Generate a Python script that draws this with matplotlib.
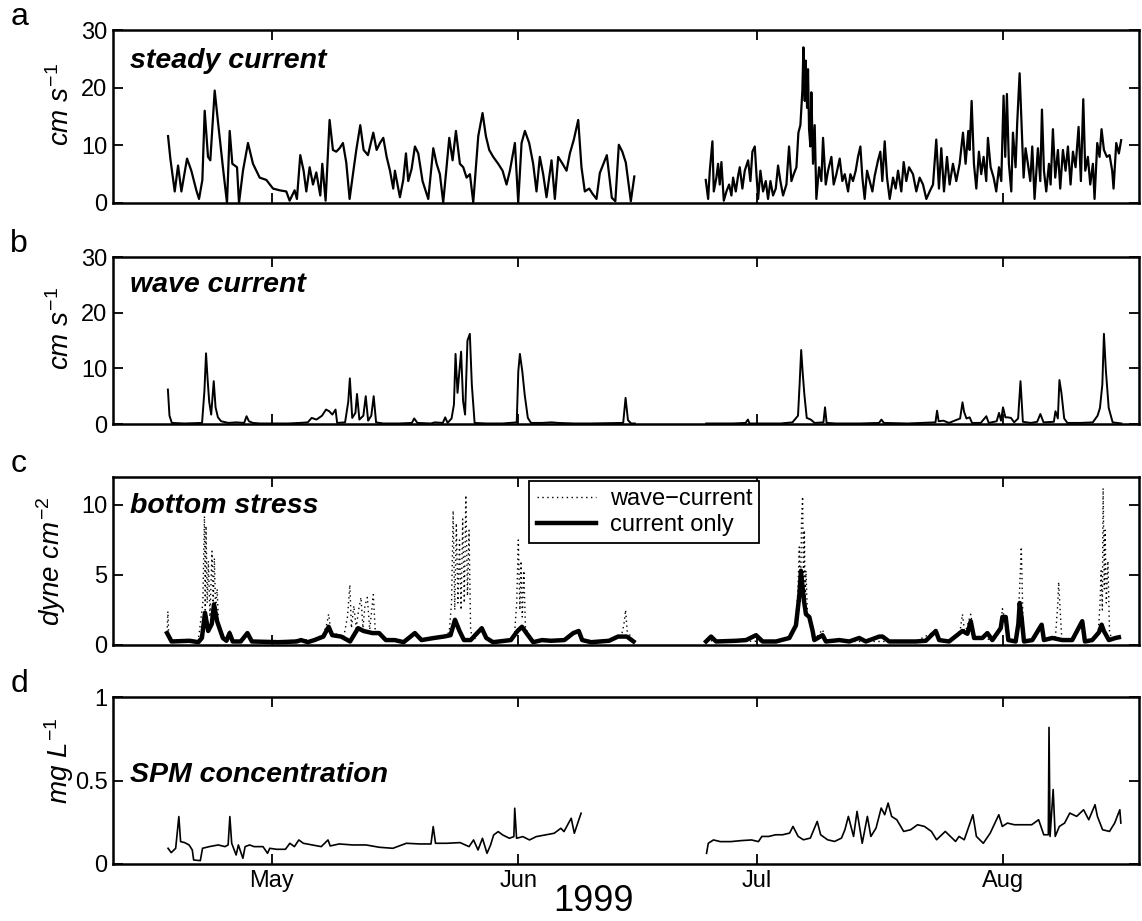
import numpy as np
import matplotlib
matplotlib.use("Agg")
import matplotlib.pyplot as plt
import matplotlib.dates as mdates

plt.rcParams["font.family"] = ["Liberation Sans", "DejaVu Sans"]
plt.rcParams["mathtext.fontset"] = "custom"
plt.rcParams["mathtext.it"] = "Liberation Sans:italic"
plt.rcParams["mathtext.rm"] = "Liberation Sans"

BASE = np.datetime64("1999-04-01T00:00")   # day 0
XLIM_DAYS = (10.0, 139.06)

# ---- a: steady current (cm/s), two deployments --------------------------
A1_DAY = [16.92, 17.21, 17.76, 18.18, 18.6, 19.31, 19.85, 20.48, 20.82, 21.24, 21.53, 21.95,
          22.24, 22.79, 23.21, 23.84, 24.34, 24.68, 25.01, 25.6, 25.85, 26.35, 26.98, 27.61,
          28.45, 29.29, 30.13, 30.96, 31.8, 32.22, 32.85, 33.14, 33.56, 33.98, 34.32, 34.74,
          35.16, 35.58, 36.08, 36.33, 36.75, 37.25, 37.67, 38.09, 38.51, 38.93, 39.35, 39.77,
          40.19, 40.61, 41.11, 41.53, 42.08, 42.75, 43.17, 43.59, 44.01, 44.43, 44.85, 45.26,
          45.47, 46.1, 46.52, 46.86, 47.15, 47.57, 47.99, 48.41, 48.95, 49.25, 49.67, 50.3,
          50.72, 51.13, 51.55, 51.97, 52.31, 52.73, 53.15, 53.65, 54.07, 54.49, 54.91, 55.33,
          55.96, 56.5, 56.92, 57.34, 57.84, 58.47, 59.02, 59.52, 59.94, 60.57, 60.99, 61.41,
          61.83, 62.37, 62.87, 63.29, 63.71, 64.13, 64.55, 65.18, 65.6, 66.02, 66.57, 67.07,
          67.49, 67.99, 68.54, 68.95, 69.37, 69.92, 70.34, 70.84, 71.26, 72.14, 72.77, 73.21,
          73.65, 74.09, 74.53, 75.16, 75.6]
A1_VAL = [11.6, 7.7, 2, 6.5, 2, 7.7, 5.6, 2.2, 0.7, 4, 16, 8,
          7.4, 19.5, 14, 6, 0, 12.5, 6.8, 6.2, 0, 5.6, 10.4, 6.8,
          4.4, 4, 2.5, 2.2, 2, 0.4, 2.2, 0.7, 8.3, 5.6, 2, 6.2,
          3.2, 5.3, 1.3, 6.8, 0.4, 14.4, 9.2, 8.9, 9.5, 10.4, 7, 0.7,
          5, 9.2, 13.5, 9.2, 8.3, 12.2, 9.2, 10.4, 11.3, 8, 5.6, 2.5,
          5.6, 1, 4, 8.6, 3.8, 5.9, 9.8, 8.6, 3.8, 2.5, 0.7, 9.5,
          6.8, 5, 0.1, 6.2, 11.3, 7.4, 12.5, 6.8, 6.2, 4.4, 5, 0.1,
          11.6, 15.6, 11.6, 9.2, 8, 6.8, 5.6, 3.2, 5.6, 10.4, 0.1, 10.4,
          12.5, 10.4, 6.8, 2, 8, 5, 1, 7.4, 0.7, 8, 6.8, 5.6,
          8.6, 11, 14.4, 6.2, 2, 2.5, 1.6, 0.7, 5.2, 8.3, 0.9, 0.3,
          10.1, 8.9, 7, 0.3, 4.6]
A2_DAY = [84.59, 84.89, 85.1, 85.43, 85.6, 85.93, 86.14, 86.35, 86.56, 86.86, 87.19, 87.53,
          87.82, 88.03, 88.37, 88.66, 88.87, 89.2, 89.5, 89.92, 90.21, 90.46, 90.76, 90.97,
          91.18, 91.47, 91.8, 92.14, 92.43, 92.73, 93.06, 93.4, 93.69, 93.98, 94.32, 94.74,
          95.07, 95.37, 95.66, 96.0, 96.25, 96.5, 96.75, 96.88, 97.05, 97.17, 97.34, 97.46,
          97.59, 97.76, 97.88, 98.09, 98.3, 98.51, 98.85, 99.14, 99.35, 99.69, 99.98, 100.4,
          100.69, 101.03, 101.45, 101.78, 102.08, 102.5, 102.79, 103.12, 103.46, 103.75, 104.05,
          104.3, 104.59, 104.89, 105.22, 105.56, 105.85, 106.27, 106.56, 106.81, 107.11, 107.4,
          107.74, 108.16, 108.49, 108.79, 109.2, 109.5, 109.83, 110.17, 110.67, 111.09, 111.51,
          111.93, 112.35, 112.77, 113.19, 113.6, 113.94, 114.23, 114.57, 114.95, 115.28, 115.7,
          116.12, 116.54, 116.96, 117.29, 117.63, 117.8, 118.05, 118.34, 118.64, 118.97, 119.26,
          119.56, 119.89, 120.1, 120.44, 120.82, 121.15, 121.49, 121.78, 122.07, 122.28, 122.49,
          122.74, 123.04, 123.25, 123.58, 123.79, 124.09, 124.3, 124.59, 124.84, 125.13, 125.43,
          125.68, 125.97, 126.39, 126.69, 126.9, 127.15, 127.44, 127.78, 127.99, 128.28, 128.57,
          128.91, 129.2, 129.54, 129.87, 130.17, 130.5, 130.8, 131.13, 131.51, 131.8, 132.1,
          132.35, 132.68, 132.98, 133.31, 133.52, 133.86, 134.15, 134.4, 134.7, 135.07, 135.41,
          135.74, 135.91, 136.25, 136.58, 136.87]
A2_VAL = [4, 0.7, 5.6, 10.7, 2, 4.4, 6.8, 3.2, 7.1, 0.4, 2, 3.2,
          1.3, 4.4, 2, 4.7, 6.2, 2.5, 5.6, 7.4, 3.8, 8.9, 9.8, 5,
          0.7, 5.6, 2, 3.8, 0.7, 3.8, 1.3, 2.5, 6.5, 3.8, 1.3, 3.2,
          9.8, 3.8, 5, 6.2, 12.2, 13.5, 19.5, 27, 17.7, 24.7, 16.5, 23.2,
          12.8, 9.8, 19.2, 6.8, 13.5, 0.7, 6.2, 3.8, 11.3, 3.2, 5.6, 8,
          3.2, 5, 7.7, 3.8, 5, 2, 5, 3.8, 5.6, 8, 9.8,
          4.4, 0.7, 5.6, 3.8, 2, 4.7, 7.4, 8.9, 3.8, 10.7, 4.4,
          0.7, 4.4, 2.5, 5.6, 2, 7.1, 3.8, 6.2, 5, 2, 4.4,
          3.2, 0.7, 2, 3.2, 11, 2.5, 9.5, 2, 8, 3.2, 6.8,
          3.8, 6.8, 12.2, 6.8, 12.5, 9.2, 17.7, 6.8, 2.5, 8.9, 5,
          8, 3.8, 11.3, 6.2, 4.4, 2, 6.2, 3.8, 18.6, 8, 18.9,
          6.8, 2, 12.2, 6.2, 14, 22.5, 14.7, 4.4, 9.5, 6.8, 3.8,
          9.8, 0.7, 9.5, 3.8, 16.2, 5.6, 2, 6.8, 3.2, 12.8, 4.4,
          9.2, 2.5, 9.2, 5.6, 9.8, 3.2, 8.9, 6.2, 13.2, 3.8, 18,
          5.6, 8, 3.2, 6.8, 0.7, 10.4, 8, 12.8, 9.2, 8, 8.3,
          5.6, 2.5, 10.4, 8.6, 10.9]

# ---- b: wave orbital current (cm/s) -------------------------------------
B1_DAY = [16.9, 17.1, 17.4, 19, 21.2, 21.5, 21.7, 21.9, 22.1, 22.35, 22.67, 22.9, 23.2, 23.6,
          24.5, 25.5, 26.5, 26.8, 27.1, 27.6, 28.5, 30, 32, 33.5, 34.5, 35.0, 35.6, 36.3,
          36.8, 37.2, 37.6, 38.0, 38.2, 39.2, 39.6, 39.8, 40.1, 40.5, 40.7, 41.0, 41.5, 41.8,
          42.1, 42.5, 42.8, 43.1, 44, 46, 47.6, 47.9, 48.3, 50, 50.5, 51.5, 51.8, 52.1, 52.6,
          52.9, 53.1, 53.35, 53.8, 54.05, 54.3, 54.6, 54.9, 55.15, 55.5, 57, 59, 60.8, 61.0,
          61.2, 61.5, 61.8, 62.2, 62.6, 64, 65.2, 66, 68, 70, 74.2, 74.5, 74.8, 75.2, 75.66]
B1_VAL = [6.2, 1.5, 0.2, 0.1, 0.2, 6, 12.7, 8, 4, 1.7, 7.7, 3, 1.2, 0.5,
          0.2, 0.3, 0.2, 1.4, 0.5, 0.2, 0.1, 0.1, 0.1, 0.2, 0.3, 1.1, 0.8, 1.5,
          2.6, 2.3, 1.7, 2.6, 0.2, 0.3, 4, 8.2, 1.1, 2, 5.4, 0.8, 1.5, 5,
          0.6, 1.5, 5, 0.3, 0.1, 0.1, 0.2, 1, 0.2, 0.1, 0.3, 0.2, 1.2, 0.2, 1,
          3.5, 12.6, 5.6, 13, 4.1, 1.7, 15, 16.2, 7.1, 0.2, 0.1, 0.1, 0.3, 9.5,
          12.6, 9.5, 5.3, 1.1, 0.2, 0.2, 0.3, 0.2, 0.1, 0.1, 0.2, 4.7, 0.7, 0.1, 0.1]
B2_DAY = [84.65, 88, 89.6, 89.9, 90.1, 94, 95.5, 96.2, 96.4, 96.6, 96.8, 97.0, 97.3, 97.8,
          98.3, 99.4, 99.6, 99.8, 101, 104, 106.4, 106.7, 107, 110, 113.5, 113.7, 113.9, 114.5,
          115.2, 116.6, 116.9, 117.1, 117.4, 117.8, 118.1, 119.2, 119.9, 120.2, 121.2, 121.5,
          121.75, 122.0, 122.3, 122.6, 123.0, 123.4, 123.9, 124.2, 124.5, 125.5, 126.3, 126.7,
          127.1, 128.4, 128.6, 128.9, 129.1, 129.35, 129.7, 130.1, 131.8, 133.3, 133.9, 134.2,
          134.5, 134.7, 134.95, 135.3, 135.8, 136.9]
B2_VAL = [0.1, 0.1, 0.2, 0.8, 0.1, 0.1, 0.3, 1.5, 7.1, 13.3, 9, 5.3, 1.1, 0.8,
          0.2, 0.3, 3, 0.2, 0.1, 0.1, 0.2, 0.8, 0.2, 0.1, 0.3, 2.4, 0.5, 0.6,
          0.2, 1, 3.9, 2.2, 1, 1.2, 0.2, 0.2, 1.4, 0.2, 0.5, 2,
          0.6, 3, 1.2, 1.2, 1.1, 0.3, 1, 7.7, 0.4, 0.2, 0.4, 1.8,
          0.3, 0.4, 2.3, 1, 7.9, 5.6, 1, 0.2, 0.2, 0.3, 1.5, 2.9,
          7.1, 16.2, 9.5, 2.9, 0.3, 0.1]

# ---- c: bottom stress (dyne/cm2) ----------------------------------------
C1_DAY = [16.8, 17.36, 19.61, 20.73, 21.18, 21.57, 21.97, 22.42, 22.7, 23.09, 23.82, 24.27,
          24.66, 25.06, 26.07, 26.91, 27.47, 30.84, 33.09, 33.65, 34.49, 35.34, 36.46, 37.13,
          37.58, 38.71, 39.83, 40.84, 41.52, 42.64, 43.48, 44.33, 45.45, 46.57, 47.98, 48.82,
          50.39, 51.63, 52.47, 53.03, 53.6, 54.16, 55.0, 56.4, 56.97, 57.81, 60.06, 60.9,
          61.46, 62.02, 62.87, 63.99, 65.11, 66.8, 67.92, 68.6, 69.04, 70.17, 72.42, 73.54,
          74.66, 75.5]
C1_VAL = [0.85, 0.25, 0.3, 0.2, 0.5, 2.3, 1, 1.5, 2.9, 1.7, 0.5, 0.3,
          0.85, 0.25, 0.25, 0.85, 0.25, 0.2, 0.25, 0.35, 0.2, 0.35, 0.6, 1.3,
          0.7, 0.6, 0.25, 1.2, 1, 0.85, 0.85, 0.35, 0.35, 0.2, 0.85, 0.35,
          0.5, 0.6, 0.7, 1.8, 1, 0.35, 0.35, 1.2, 0.5, 0.2, 0.35, 1,
          1.3, 0.85, 0.2, 0.35, 0.3, 0.35, 0.85, 1, 0.35, 0.2, 0.3, 0.6,
          0.6, 0.25]
C2_DAY = [84.63, 85.26, 85.89, 88.4, 89.66, 90.92, 91.75, 93.43, 95.11, 95.94, 96.36, 96.57,
          96.78, 96.99, 97.2, 97.62, 98.04, 98.25, 99.29, 99.71, 101.39, 102.65, 103.9, 104.74,
          106.42, 106.84, 107.67, 111.02, 112.28, 113.54, 113.96, 115.21, 116.89, 117.52,
          117.94, 118.36, 119.4, 120.03, 120.66, 121.71, 121.92, 122.34, 122.67, 123.59,
          123.93, 124.1, 124.35, 124.64, 125.69, 126.86, 127.15, 128.2, 129.46, 130.71, 131.97,
          132.31, 133.23, 134.07, 134.41, 134.69, 135.32, 136.16, 136.58]
C2_VAL = [0.25, 0.6, 0.25, 0.3, 0.35, 0.7, 0.25, 0.25, 0.5, 1.4, 3.5, 5.3,
          4.1, 3, 2.2, 2, 1, 0.35, 0.7, 0.25, 0.35, 0.25, 0.5, 0.25,
          0.6, 0.6, 0.25, 0.25, 0.3, 1, 0.35, 0.25, 1, 0.8,
          1.7, 0.5, 0.5, 0.85, 0.35, 1.2, 2, 2, 0.35, 0.25,
          1.5, 3, 1.9, 0.25, 0.35, 1.45, 0.35, 0.5, 0.35, 0.35, 1.7,
          0.25, 0.35, 0.9, 1.45, 1, 0.35, 0.5, 0.55]
W1_DAY = [16.8, 16.9, 17.0, 17.4, 19.6, 20.7, 21.3, 21.5, 21.6, 21.7, 21.85, 22.0, 22.2,
          22.45, 22.6, 22.75, 22.9, 23.1, 23.3, 23.8, 24.3, 24.7, 25.0, 26.1, 26.9, 27.4,
          30.8, 33.6, 35.3, 36.5, 36.9, 37.13, 37.4, 38.0, 39.0, 39.5, 39.8, 40.0, 40.3,
          40.6, 40.9, 41.2, 41.45, 41.7, 42.0, 42.3, 42.75, 43.0, 43.5, 44.3, 46.6, 48.0,
          48.8, 50.4, 51.6, 52.3, 52.6, 52.8, 53.0, 53.2, 53.4, 53.6, 53.8, 54.0, 54.2,
          54.4, 54.6, 54.8, 55.0, 55.4, 56.4, 57.0, 57.8, 60.0, 60.5, 60.8, 61.0, 61.2,
          61.35, 61.5, 61.7, 61.9, 62.2, 62.9, 64.0, 65.1, 66.8, 67.9, 68.6, 69.0, 70.2,
          72.4, 73.5, 74.0, 74.3, 74.5, 74.7, 75.5]
W1_VAL = [0.9, 2.4, 0.8, 0.3, 0.3, 0.2, 3, 9.2, 2.5, 8.5, 3, 6, 2,
          6.7, 3, 6.2, 2.5, 4, 1, 0.6, 0.3, 1, 0.3, 0.25, 1, 0.3,
          0.2, 0.4, 0.35, 0.8, 1.5, 2.2, 1, 0.8, 0.5, 2, 4.3, 1.2, 2.8,
          1.2, 2.5, 3.4, 1.2, 2.8, 3.4, 1.1, 3.6, 1, 0.9, 0.4, 0.2, 0.9,
          0.35, 0.5, 0.6, 0.9, 3, 9.6, 2.5, 8.7, 3, 7.5, 2.5, 9, 3,
          10.7, 3.5, 8.2, 1, 0.35, 1.2, 0.5, 0.2, 0.35, 0.6, 3, 7.5, 2.5,
          6, 2, 5.3, 1.2, 0.9, 0.2, 0.35, 0.3, 0.35, 0.85, 1.1, 0.35, 0.2,
          0.3, 0.6, 0.7, 1.5, 2.5, 1, 0.3]
W2_DAY = [84.63, 88.4, 91.75, 93.4, 95.1, 95.9, 96.2, 96.36, 96.5, 96.65, 96.78, 96.9, 97.0,
          97.1, 97.2, 97.4, 97.7, 98.0, 98.25, 99.29, 99.7, 101.4, 102.6, 104.7, 107.7, 111.0,
          113.5, 114.0, 115.2, 116.6, 116.89, 117.2, 117.94, 118.36, 119.4, 120.66, 121.71,
          121.92, 122.34, 122.67, 123.6, 123.9, 124.1, 124.3, 124.5, 124.64, 125.7, 126.86,
          127.15, 128.2, 128.6, 128.9, 129.0, 129.2, 129.4, 130.7, 131.97, 132.3, 133.2, 134.0,
          134.2, 134.35, 134.5, 134.6, 134.75, 134.85, 135.0, 135.2, 135.4, 135.7, 136.16,
          136.58]
W2_VAL = [0.3, 0.3, 0.25, 0.25, 0.5, 1.5, 4, 7, 3, 9, 10.6, 4, 8.2,
          3, 5.3, 2, 2.2, 1, 0.35, 1.1, 0.3, 0.35, 0.25, 0.25, 0.25, 0.25,
          1, 0.35, 0.25, 1, 2.2, 0.8, 2.2, 0.5, 0.5, 0.35, 1.2,
          2.6, 1.5, 0.35, 0.25, 2, 4.1, 7, 2, 0.25, 0.35, 1.45,
          0.35, 0.5, 0.6, 3, 4.5, 2.4, 0.4, 0.35, 1.7, 0.25, 0.35, 1,
          2.9, 5.3, 2.5, 11.2, 4, 8.2, 3, 6, 1, 0.35, 0.5,
          0.6]

# ---- d: SPM concentration (mg/L) ----------------------------------------
D1_DAY = [16.92, 17.32, 17.88, 18.28, 18.5, 19.01, 19.57, 19.97, 20.14, 20.98, 21.26, 22.11,
          23.24, 24.08, 24.48, 24.7, 24.93, 25.49, 25.77, 26.34, 26.62, 27.18, 27.75, 28.87,
          29.44, 29.72, 30.56, 31.69, 32.25, 32.82, 33.38, 33.95, 35.07, 36.2, 37.05, 37.33,
          38.46, 40.15, 41.84, 43.53, 45.22, 46.91, 48.6, 50.01, 50.29, 50.58, 51.98, 53.68,
          54.8, 55.37, 55.93, 56.49, 57.06, 57.51, 57.9, 58.47, 59.03, 59.88, 60.44, 60.55,
          60.78, 61.57, 62.41, 63.26, 64.39, 65.51, 66.36, 66.75, 67.2, 67.66, 68.05, 68.33,
          68.9]
D1_VAL = [0.094, 0.068, 0.094, 0.284, 0.134, 0.128, 0.114, 0.084, 0.024, 0.02, 0.094, 0.104,
          0.114, 0.104, 0.114, 0.284, 0.124, 0.054, 0.114, 0.034, 0.104, 0.114, 0.104, 0.104,
          0.064, 0.094, 0.088, 0.088, 0.124, 0.104, 0.144, 0.124, 0.114, 0.104, 0.144, 0.108,
          0.12, 0.114, 0.114, 0.1, 0.094, 0.124, 0.12, 0.12, 0.224, 0.124, 0.124, 0.128,
          0.104, 0.144, 0.084, 0.154, 0.064, 0.114, 0.174, 0.194, 0.174, 0.154, 0.164, 0.334,
          0.154, 0.164, 0.144, 0.164, 0.174, 0.184, 0.214, 0.194, 0.234, 0.274, 0.184, 0.224,
          0.304]
D2_DAY = [84.69, 84.91, 85.56, 86.43, 87.73, 89.04, 90.35, 91.22, 91.65, 92.52, 93.39, 94.27,
          95.14, 95.57, 96.22, 96.88, 97.75, 98.62, 99.05, 99.92, 100.8, 101.67, 102.1, 102.54,
          103.19, 103.63, 104.28, 104.93, 105.37, 106.02, 106.67, 107.11, 107.54, 107.98,
          108.63, 109.5, 110.37, 111.24, 112.11, 112.99, 113.64, 114.73, 115.38, 116.03,
          116.47, 117.12, 118.21, 118.65, 119.52, 120.39, 121.47, 121.91, 122.56, 123.43,
          124.74, 125.61, 126.48, 127.13, 127.7, 127.79, 127.92, 128.31, 128.57, 129.09,
          129.75, 130.4, 131.27, 132.14, 132.79, 133.58, 133.88, 134.53, 135.4, 136.05,
          136.7, 136.83]
D2_VAL = [0.064, 0.124, 0.144, 0.134, 0.134, 0.14, 0.144, 0.134, 0.165, 0.165, 0.175, 0.175,
          0.185, 0.225, 0.165, 0.145, 0.155, 0.255, 0.175, 0.145, 0.135, 0.155, 0.205, 0.285,
          0.165, 0.315, 0.124, 0.285, 0.165, 0.215, 0.335, 0.295, 0.365, 0.285,
          0.265, 0.195, 0.205, 0.235, 0.225, 0.195, 0.145, 0.195, 0.165, 0.135,
          0.165, 0.145, 0.295, 0.165, 0.124, 0.185, 0.295, 0.225, 0.245, 0.235,
          0.235, 0.235, 0.265, 0.175, 0.175, 0.818, 0.165, 0.446, 0.165, 0.225,
          0.245, 0.305, 0.285, 0.325, 0.265, 0.355, 0.285, 0.205, 0.195, 0.245,
          0.325, 0.245]

MONTH_TICKS = ["1999-05-01", "1999-06-01", "1999-07-01", "1999-08-01"]


def t(days):
    secs = (np.asarray(days, dtype=float) * 86400).astype("int64")
    return BASE + secs.astype("timedelta64[s]")


def style(ax, ylim, yticks, yticklabels=None):
    ax.set_xlim(t(XLIM_DAYS[0]), t(XLIM_DAYS[1]))
    ax.set_ylim(*ylim)
    ax.set_yticks(yticks)
    if yticklabels is not None:
        ax.set_yticklabels(yticklabels)
    ax.set_xticks([np.datetime64(m) for m in MONTH_TICKS])
    ax.xaxis.set_major_formatter(mdates.DateFormatter("%b"))
    ax.tick_params(direction="in", length=7, width=1.3, top=True, right=True,
                   labelsize=17, pad=4)
    for s in ax.spines.values():
        s.set_linewidth(1.8)


fig = plt.figure(figsize=(11.42, 9.21), dpi=100)
L, W = 0.099, 0.898
axa = fig.add_axes([L, 0.7796, W, 0.1878])
axb = fig.add_axes([L, 0.5396, W, 0.1813])
axc = fig.add_axes([L, 0.2997, W, 0.1824])
axd = fig.add_axes([L, 0.0619, W, 0.1813])

TITLE_KW = dict(fontsize=20.5, fontweight="bold", style="italic")
YLAB_SIZE = 20

# a
for d, v in ((A1_DAY, A1_VAL), (A2_DAY, A2_VAL)):
    axa.plot(t(d), v, color="black", lw=1.6)
style(axa, (0, 30), [0, 10, 20, 30])
axa.text(0.017, 0.78, "steady current", transform=axa.transAxes, **TITLE_KW)
axa.set_ylabel(r"$cm\ s^{-1}$", fontsize=YLAB_SIZE)
axa.yaxis.set_label_coords(-0.037, 0.57)

# b
for d, v in ((B1_DAY, B1_VAL), (B2_DAY, B2_VAL)):
    axb.plot(t(d), v, color="black", lw=1.4)
style(axb, (0, 30), [0, 10, 20, 30])
axb.text(0.017, 0.79, "wave current", transform=axb.transAxes, **TITLE_KW)
axb.set_ylabel(r"$cm\ s^{-1}$", fontsize=YLAB_SIZE)
axb.yaxis.set_label_coords(-0.037, 0.575)

# c
for i, (d, v) in enumerate(((W1_DAY, W1_VAL), (W2_DAY, W2_VAL))):
    axc.plot(t(d), v, color="black", lw=1.0, ls=(0, (1, 2.5)),
             label="wave\u2212current" if i == 0 else None)
for i, (d, v) in enumerate(((C1_DAY, C1_VAL), (C2_DAY, C2_VAL))):
    axc.plot(t(d), v, color="black", lw=3.2, solid_joinstyle="round",
             label="current only" if i == 0 else None)
style(axc, (0, 12), [0, 5, 10])
axc.text(0.017, 0.786, "bottom stress", transform=axc.transAxes, **TITLE_KW)
axc.set_ylabel(r"$dyne\ cm^{-2}$", fontsize=YLAB_SIZE)
axc.yaxis.set_label_coords(-0.044, 0.5)
leg = axc.legend(loc="upper left", bbox_to_anchor=(0.406, 0.975), fontsize=17,
                 frameon=True, fancybox=False, borderpad=0.3, labelspacing=0.15,
                 handlelength=2.5, handletextpad=0.6, borderaxespad=0)
leg.get_frame().set_edgecolor("black")
leg.get_frame().set_linewidth(1.3)
leg.get_frame().set_alpha(1)

# d
for d, v in ((D1_DAY, D1_VAL), (D2_DAY, D2_VAL)):
    axd.plot(t(d), v, color="black", lw=1.2)
style(axd, (0, 1), [0, 0.5, 1], ["0", "0.5", "1"])
axd.text(0.017, 0.49, "SPM concentration", transform=axd.transAxes, **TITLE_KW)
axd.set_ylabel(r"$mg\ L^{-1}$", fontsize=YLAB_SIZE)
axd.yaxis.set_label_coords(-0.036, 0.62)

for ax in (axa, axb, axc):
    ax.tick_params(labelbottom=False)

fig.text(0.52, 0.011, "1999", fontsize=26, ha="center", va="baseline")
for lab, y in (("a", 0.973), ("b", 0.726), ("c", 0.4875), ("d", 0.249)):
    fig.text(0.009, y, lab, fontsize=23, va="baseline")

fig.savefig("out.png", dpi=100)
